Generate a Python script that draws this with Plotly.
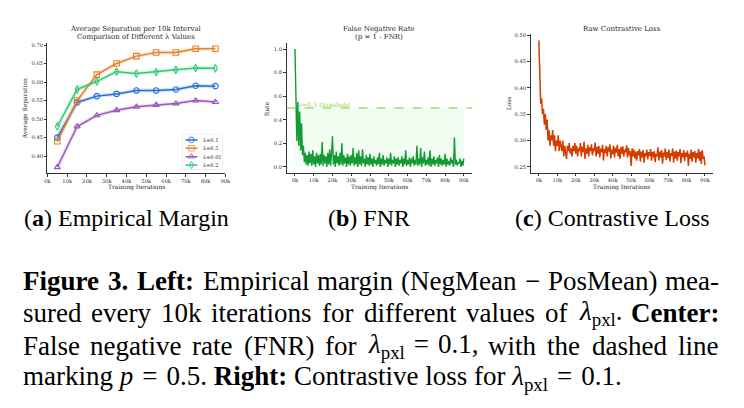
import plotly.graph_objects as go

W, H = 744, 408

# ---------------- data ----------------
interval_iters = [5000, 15000, 25000, 35000, 45000, 55000, 65000, 75000, 85000]
sep_lam_0_1 = [0.450, 0.545, 0.562, 0.568, 0.577, 0.577, 0.580, 0.590, 0.589]
sep_lam_0_5 = [0.440, 0.550, 0.620, 0.650, 0.670, 0.680, 0.680, 0.690, 0.690]
sep_lam_0_01 = [0.370, 0.480, 0.510, 0.524, 0.533, 0.538, 0.542, 0.550, 0.546]
sep_lam_0_2 = [0.480, 0.580, 0.602, 0.628, 0.623, 0.627, 0.633, 0.638, 0.637]
series_names = ["λ=0.1", "λ=0.5", "λ=0.01", "λ=0.2"]

step_iters = list(range(0, 90001, 500))
fnr = [
    1.00, 0.60, 0.22, 0.55, 0.18, 0.47, 0.14, 0.37, 0.10, 0.18,
    0.04, 0.12, 0.02, 0.10, 0.01, 0.13, 0.03, 0.11, 0.01, 0.14,
    0.02, 0.09, 0.00, 0.12, 0.03, 0.10, 0.01, 0.11, 0.02, 0.21,
    0.01, 0.10, 0.03, 0.09, 0.00, 0.12, 0.02, 0.15, 0.01, 0.11,
    0.26, 0.02, 0.10, 0.00, 0.13, 0.03, 0.09, 0.01, 0.12, 0.02,
    0.20, 0.01, 0.10, 0.03, 0.08, 0.00, 0.11, 0.02, 0.09, 0.01,
    0.10, 0.03, 0.16, 0.01, 0.08, 0.02, 0.12, 0.00, 0.14, 0.02,
    0.09, 0.01, 0.15, 0.03, 0.07, 0.00, 0.10, 0.02, 0.08, 0.01,
    0.11, 0.02, 0.07, 0.00, 0.09, 0.03, 0.06, 0.01, 0.08, 0.02,
    0.12, 0.00, 0.07, 0.02, 0.10, 0.01, 0.06, 0.03, 0.08, 0.00,
    0.07, 0.02, 0.12, 0.01, 0.06, 0.03, 0.09, 0.00, 0.07, 0.02,
    0.08, 0.01, 0.06, 0.03, 0.09, 0.00, 0.07, 0.02, 0.14, 0.01,
    0.06, 0.02, 0.08, 0.00, 0.07, 0.03, 0.09, 0.01, 0.06, 0.02,
    0.18, 0.01, 0.07, 0.02, 0.16, 0.00, 0.08, 0.03, 0.13, 0.01,
    0.06, 0.02, 0.08, 0.01, 0.14, 0.00, 0.07, 0.02, 0.09, 0.01,
    0.06, 0.03, 0.08, 0.00, 0.10, 0.02, 0.07, 0.01, 0.06, 0.02,
    0.11, 0.00, 0.07, 0.02, 0.05, 0.01, 0.08, 0.03, 0.06, 0.00,
    0.25, 0.02, 0.06, 0.01, 0.04, 0.03, 0.07, 0.00, 0.05, 0.01,
    0.07,
]
loss = [
    0.490, 0.430, 0.370, 0.380, 0.350, 0.360, 0.330, 0.350, 0.320, 0.340,
    0.300, 0.320, 0.290, 0.310, 0.300, 0.320, 0.290, 0.310, 0.280, 0.300,
    0.290, 0.310, 0.280, 0.300, 0.290, 0.280, 0.300, 0.270, 0.290, 0.280,
    0.265, 0.290, 0.280, 0.295, 0.275, 0.285, 0.270, 0.290, 0.280, 0.295,
    0.275, 0.290, 0.270, 0.285, 0.280, 0.295, 0.270, 0.288, 0.278, 0.298,
    0.265, 0.285, 0.275, 0.292, 0.270, 0.287, 0.280, 0.293, 0.272, 0.285,
    0.280, 0.296, 0.270, 0.288, 0.275, 0.290, 0.268, 0.285, 0.278, 0.292,
    0.262, 0.284, 0.276, 0.290, 0.270, 0.287, 0.279, 0.293, 0.266, 0.283,
    0.274, 0.290, 0.268, 0.286, 0.277, 0.292, 0.270, 0.284, 0.265, 0.288,
    0.275, 0.289, 0.270, 0.283, 0.278, 0.291, 0.268, 0.286, 0.272, 0.280,
    0.252, 0.285, 0.270, 0.283, 0.266, 0.279, 0.262, 0.280, 0.272, 0.284,
    0.260, 0.279, 0.268, 0.282, 0.258, 0.276, 0.270, 0.283, 0.264, 0.278,
    0.271, 0.284, 0.262, 0.278, 0.268, 0.280, 0.259, 0.275, 0.270, 0.287,
    0.262, 0.279, 0.268, 0.282, 0.256, 0.277, 0.270, 0.285, 0.263, 0.278,
    0.267, 0.283, 0.260, 0.276, 0.271, 0.285, 0.258, 0.279, 0.266, 0.281,
    0.262, 0.278, 0.270, 0.284, 0.257, 0.276, 0.268, 0.282, 0.261, 0.277,
    0.269, 0.281, 0.252, 0.275, 0.265, 0.283, 0.260, 0.278, 0.268, 0.280,
    0.258, 0.276, 0.266, 0.284, 0.262, 0.279, 0.256, 0.282, 0.265, 0.270,
    0.253,
]
threshold = 0.5

k_ticks = list(range(0, 90001, 10000))
k_labels = [f"{v // 1000}k" for v in k_ticks]

# ---------------- helpers ----------------
def px(xp):
    return xp / W

def py(yp):
    return 1 - yp / H

CHART_FONT = "DejaVu Serif"
CAP_FONT = "Liberation Serif"
TXT = "#262626"

fig = go.Figure()

colors = ["#1f6fd8", "#e8812c", "#9b59b6", "#2ecc71"]
symbols = ["circle-open", "square-open", "triangle-up-open", "diamond-tall-open"]
all_sep = [sep_lam_0_1, sep_lam_0_5, sep_lam_0_01, sep_lam_0_2]
for vals, c in zip(all_sep, colors):
    fig.add_trace(go.Scatter(x=interval_iters, y=vals, mode="lines",
                             line=dict(color=c, width=4), opacity=0.18,
                             showlegend=False, hoverinfo="skip",
                             xaxis="x", yaxis="y"))
for vals, c, s, n in zip(all_sep, colors, symbols, series_names):
    fig.add_trace(go.Scatter(x=interval_iters, y=vals, mode="lines+markers", name=n,
                             line=dict(color=c, width=1.5), showlegend=False,
                             marker=dict(symbol=s, size=5.5, color=c,
                                         line=dict(color=c, width=1.1)),
                             xaxis="x", yaxis="y"))

fig.add_trace(go.Scatter(x=step_iters, y=fnr, mode="lines", showlegend=False,
                         line=dict(color="#139a32", width=1.4),
                         xaxis="x2", yaxis="y2"))
fig.add_trace(go.Scatter(x=step_iters, y=loss, mode="lines", showlegend=False,
                         line=dict(color="#d43c00", width=1.5),
                         xaxis="x3", yaxis="y3"))

# custom compact legend (drawn on a hidden helper axis spanning the legend box)
leg_rows = [0.84, 0.60, 0.36, 0.12]
for c, s, n, yy in zip(colors, symbols, series_names, leg_rows):
    fig.add_trace(go.Scatter(x=[0.07, 0.22, 0.37], y=[yy, yy, yy], mode="lines+markers",
                             line=dict(color=c, width=1.5), showlegend=False,
                             marker=dict(symbol=s, size=[0, 5.5, 0], color=c,
                                         line=dict(color=c, width=1.1)),
                             hoverinfo="skip", xaxis="x4", yaxis="y4"))

axis_common = dict(showline=True, linecolor="#333333", linewidth=0.8,
                   ticks="outside", ticklen=2.5, tickwidth=0.7, tickcolor="#333333",
                   showgrid=False, zeroline=False,
                   tickfont=dict(family=CHART_FONT, size=5.2, color=TXT))

fig.update_layout(
    width=W, height=H, margin=dict(l=0, r=0, t=0, b=0),
    paper_bgcolor="white", plot_bgcolor="white", showlegend=False,
    xaxis=dict(domain=[px(45), px(225)], range=[0, 90000], tickvals=k_ticks,
               ticktext=k_labels, anchor="y", **axis_common),
    yaxis=dict(domain=[py(172), py(41)], range=[0.354, 0.706],
               tickvals=[0.40, 0.45, 0.50, 0.55, 0.60, 0.65, 0.70], tickformat=".2f",
               anchor="x", **axis_common),
    xaxis2=dict(domain=[px(287), px(475)], range=[-4500, 94500], tickvals=k_ticks,
                ticktext=k_labels, anchor="y2", **axis_common),
    yaxis2=dict(domain=[py(171.6), py(41.4)], range=[-0.05, 1.05],
                tickvals=[0.0, 0.2, 0.4, 0.6, 0.8, 1.0], tickformat=".1f",
                anchor="x2", **axis_common),
    xaxis3=dict(domain=[px(534), px(719)], range=[-4500, 94500], tickvals=k_ticks,
                ticktext=k_labels, anchor="y3", **axis_common),
    yaxis3=dict(domain=[py(171.7), py(32.2)], range=[0.2387, 0.502],
                tickvals=[0.25, 0.30, 0.35, 0.40, 0.45, 0.50], tickformat=".2f",
                anchor="x3", **axis_common),
    xaxis4=dict(domain=[px(182), px(222)], range=[0, 1], visible=False,
                fixedrange=True, anchor="y4"),
    yaxis4=dict(domain=[py(168), py(133)], range=[0, 1], visible=False,
                fixedrange=True, anchor="x4"),
)

# legend box
fig.add_shape(type="rect", xref="paper", yref="paper", x0=px(182), x1=px(222),
              y0=py(168), y1=py(133), fillcolor="white",
              line=dict(color="#cccccc", width=0.6), layer="below")
for n, yy in zip(series_names, leg_rows):
    fig.add_annotation(xref="x4", yref="y4", x=0.45, y=yy, text=n, showarrow=False,
                       xanchor="left", yanchor="middle",
                       font=dict(family=CHART_FONT, size=5, color=TXT))

# threshold region and line
fig.add_shape(type="rect", xref="x2", yref="y2", x0=step_iters[0], x1=step_iters[-1],
              y0=0, y1=threshold, fillcolor="rgba(144,238,144,0.12)", line=dict(width=0),
              layer="below")
fig.add_shape(type="line", xref="x2 domain", yref="y2", x0=0, x1=1,
              y0=threshold, y1=threshold, line=dict(color="#7cc832", width=1, dash="dash"))
fig.add_annotation(xref="x2", yref="y2", x=step_iters[0] + 300, y=threshold,
                   text="p=0.5 threshold", showarrow=False, xanchor="left",
                   yanchor="bottom", yshift=-3,
                   font=dict(family=CHART_FONT, size=6.3, color="#94d454"))

def ann(x, y, text, size, family=CHART_FONT, xanchor="center", yanchor="middle",
        angle=0, color=TXT):
    fig.add_annotation(xref="paper", yref="paper", x=x, y=y, text=text,
                       showarrow=False, xanchor=xanchor, yanchor=yanchor,
                       textangle=angle, font=dict(family=family, size=size, color=color))

# titles
TS = 7
ann(px(135), py(27), "Average Separation per 10k Interval", TS)
ann(px(135), py(35.5), "Comparison of Different λ Values", TS)
ann(px(381), py(27), "False Negative Rate", TS)
ann(px(381), py(35.5), "(p = 1 - FNR)", TS)
ann(px(626.5), py(27), "Raw Contrastive Loss", TS)

# axis titles
for cx in (135, 381, 626.5):
    ann(px(cx), py(186), "Training Iterations", 6)
ann(px(23), py(107), "Average Separation", 6, angle=-90)
ann(px(267), py(107), "Rate", 6, angle=-90)
ann(px(512), py(102), "Loss", 6, angle=-90)

# sub-captions
ann(px(125), py(217), "(<b>a</b>) Empirical Margin", 24, family=CAP_FONT, color="black")
ann(px(370), py(217), "(<b>b</b>) FNR", 24, family=CAP_FONT, color="black")
ann(px(617), py(217), "(<b>c</b>) Contrastive Loss", 24, family=CAP_FONT, color="black")

# figure caption: justified lines emulated by placing words
CS = 27
SP = "\u2004"
LAM = "<i>λ</i><sub>pxl</sub>"
caption_lines = [
    (280.5, [(18, "<b>Figure</b>"), (104, "<b>3.</b>"), (134, "<b>Left:</b>"),
             (200, "Empirical"), (315.5, "margin"), (401, "(NegMean"), (526, "−"),
             (550, "PosMean)")], "mea-"),
    (313, [(18, "sured"), (87, "every"), (158, "10k"), (209, "iterations"),
           (320.5, "for"), (363, "different"), (467, "values"), (547, "of"),
           (581, LAM + ".")], "<b>Center:</b>"),
    (345.5, [(18, "False"), (86, "negative"), (189, "rate"), (241.5, "(FNR)"),
             (324, "for"), (367, LAM + SP + "=" + SP + "0.1,"), (489, "with"),
             (549, "the"), (594, "dashed")], "line"),
    (378, [(18, "marking <i>p</i>" + SP + "=" + SP + "0.5. <b>Right:</b> Contrastive loss for "
            + LAM + SP + "=" + SP + "0.1.")], None),
]
for yline, words, last in caption_lines:
    for xw, w in words:
        ann(px(xw), py(yline), w, CS, CAP_FONT, "left", color="black")
    if last:
        ann(px(727), py(yline), last, CS, CAP_FONT, "right", color="black")

fig.write_html("out.html")
